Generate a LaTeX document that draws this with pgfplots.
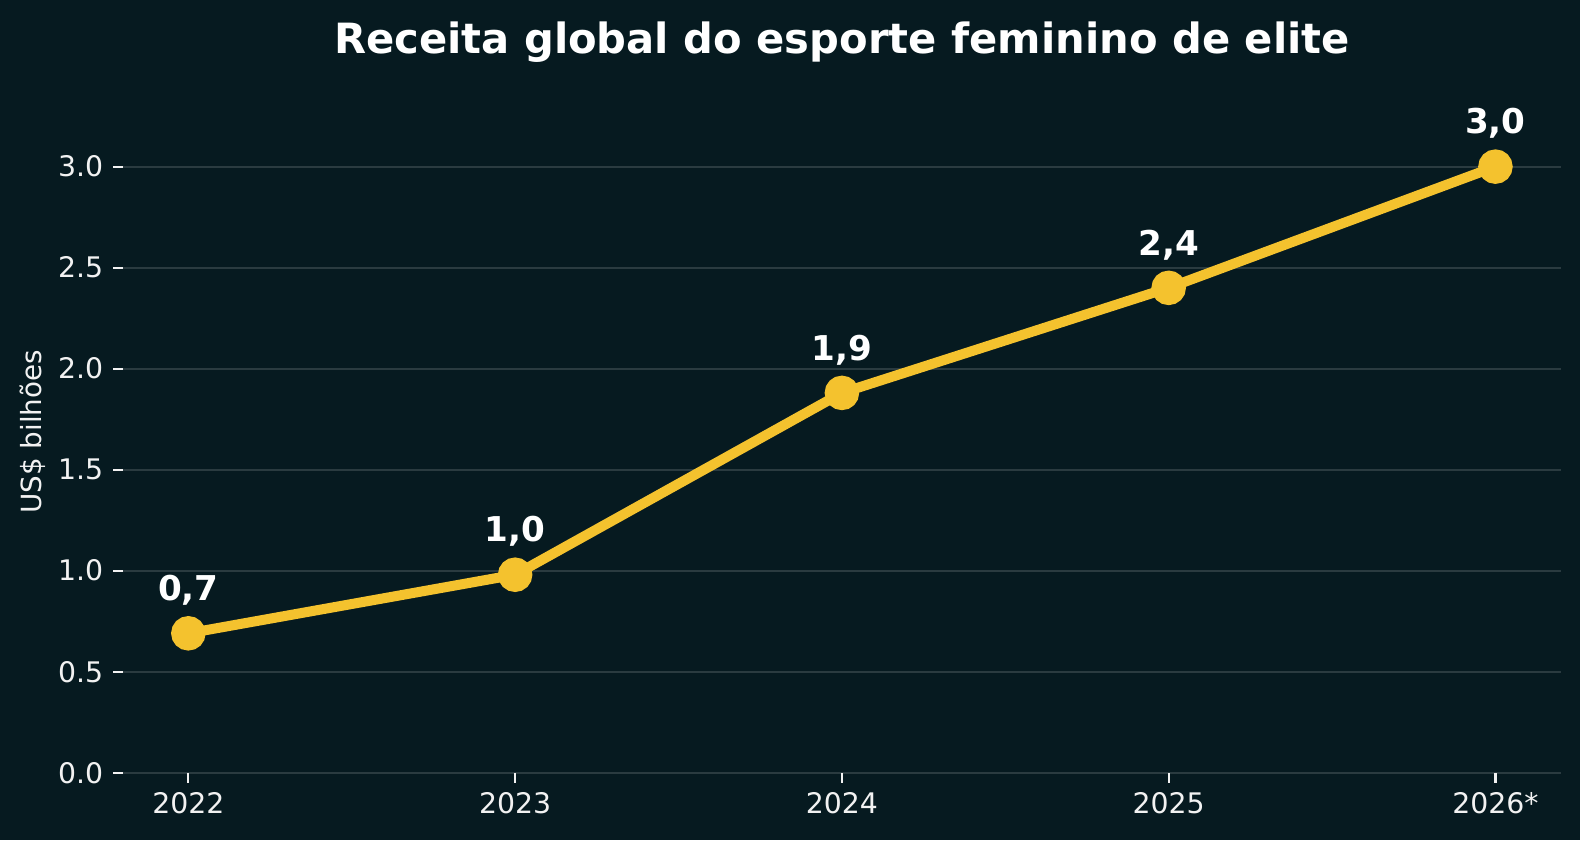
\documentclass[border=0pt]{standalone}
\usepackage{pgfplots}
\pgfplotsset{compat=1.18}
\usepackage{fontspec}
\setmainfont{DejaVu Sans}
\definecolor{bgc}{HTML}{061A20}
\definecolor{linec}{HTML}{F4C22E}
\definecolor{gridc}{HTML}{2A3B40}
\definecolor{textc}{HTML}{F2F2F2}

\begin{document}
\begin{tikzpicture}
% page = 1580x840 px at 0.36 pt/px
\fill[bgc] (0,0) rectangle (568.8pt,302.4pt);
\useasboundingbox (0,0) rectangle (568.8pt,302.4pt);
\begin{axis}[
    at={(44.28pt,24.23pt)}, anchor=south west,
    scale only axis,
    width=517.6pt, height=240pt,
    xmin=-0.2, xmax=4.2,
    ymin=0, ymax=3.3,
    axis line style={draw=none},
    xtick={0,1,2,3,4},
    xticklabels={2022,2023,2024,2025,2026*},
    ytick={0,0.5,1,1.5,2,2.5,3},
    yticklabel style={/pgf/number format/.cd, fixed, fixed zerofill, precision=1},
    /pgf/number format/assume math mode=true,
    tick label style={font=\fontsize{10.2}{12}\selectfont, color=textc},
    xtick pos=bottom, ytick pos=left,
    tick align=outside,
    major tick length=3.6pt,
    tick style={color=textc, line width=0.8pt},
    ymajorgrids, xmajorgrids=false,
    grid style={gridc, line width=0.8pt},
    nodes near coords,
    point meta=explicit symbolic,
    every node near coord/.append style={anchor=base, inner sep=0pt, yshift=11.8pt,
        font=\bfseries\fontsize{12.3}{14}\selectfont, color=white},
]
\addplot[color=linec, line width=3.6pt, mark=*, mark size=4.4pt,
    mark options={fill=linec, draw=none}] coordinates {
    (0,0.69) [0,7]
    (1,0.98) [1,0]
    (2,1.88) [1,9]
    (3,2.40) [2,4]
    (4,3.00) [3,0]
};
\end{axis}
\node[anchor=base, inner sep=0pt, text=white, font=\bfseries\fontsize{15}{18}\selectfont]
    at (303.1pt,283.2pt) {Receita global do esporte feminino de elite};
\node[rotate=90, inner sep=0pt, text=textc, font=\fontsize{10}{12}\selectfont]
    at (11.9pt,146.9pt) {US\$ bilhões};
\end{tikzpicture}
\end{document}
